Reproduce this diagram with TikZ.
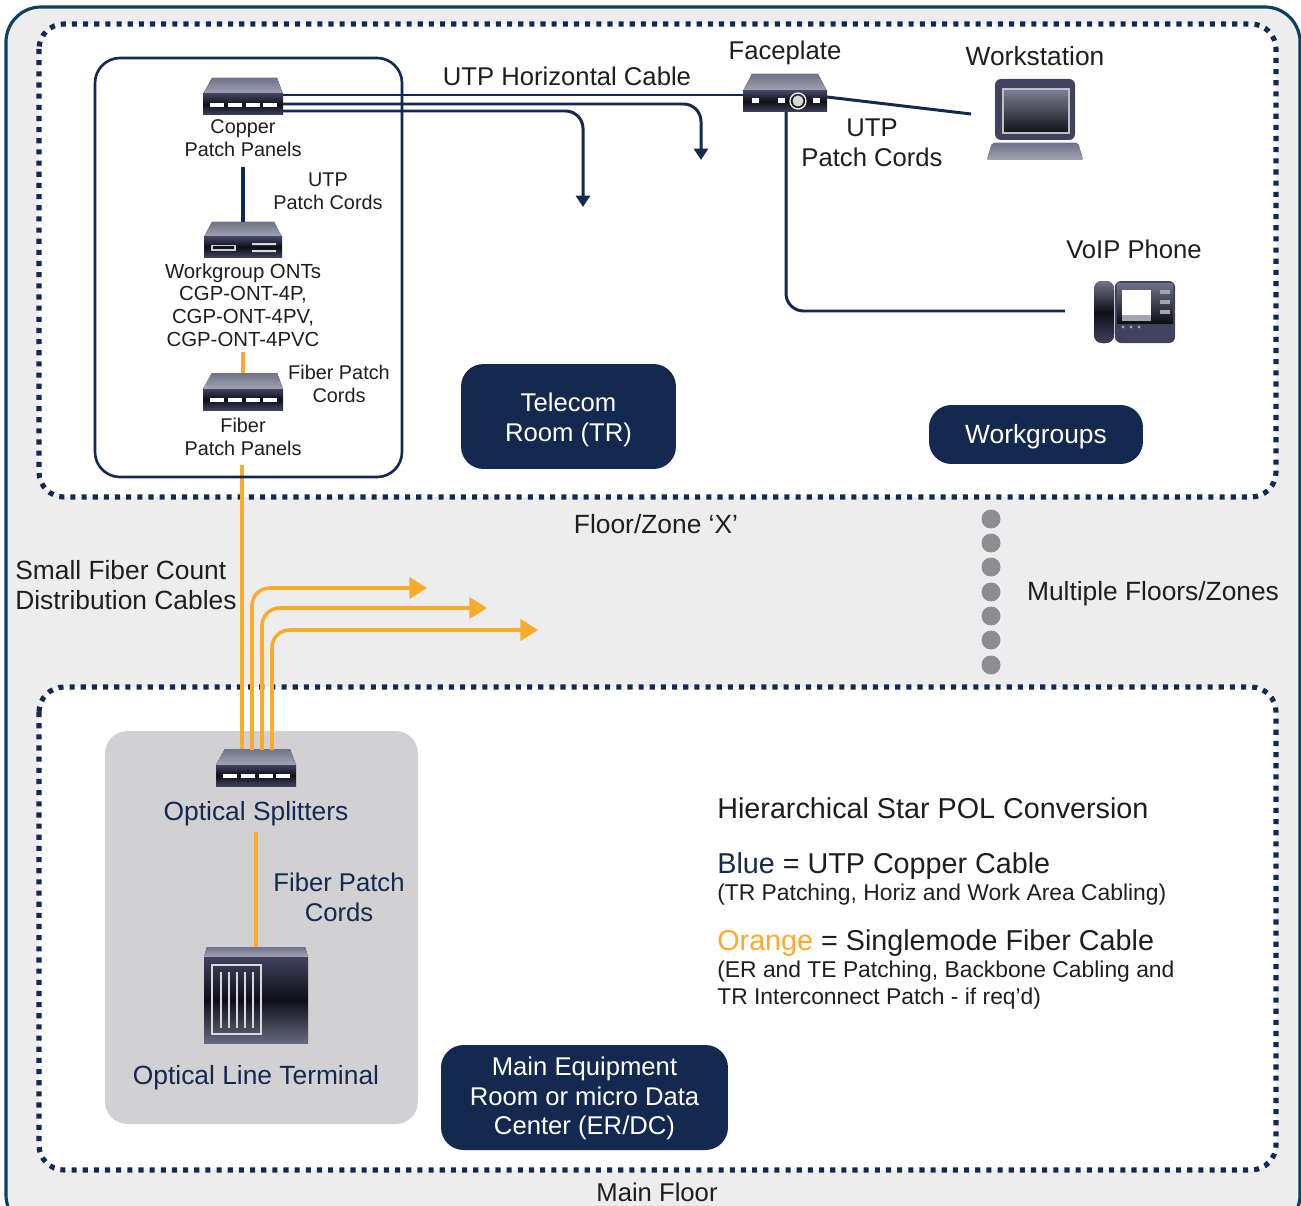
\documentclass[tikz,border=0pt]{standalone}
\usepackage{fontspec}
\setmainfont{Liberation Sans}
\usetikzlibrary{calc,arrows.meta,positioning}

\definecolor{navy}{HTML}{13294F}
\definecolor{rim}{HTML}{0D3F5E}
\definecolor{fiber}{HTML}{FBAB2C}
\definecolor{zonegray}{HTML}{EDEDEE}
\definecolor{boxgray}{HTML}{D1D1D3}
\definecolor{dotgray}{HTML}{8E8E92}
\definecolor{inktext}{HTML}{1E1E22}
\definecolor{lidA}{HTML}{6F7289}
\definecolor{lidB}{HTML}{A3A5B2}
\definecolor{faceA}{HTML}{40425F}
\definecolor{faceB}{HTML}{0F0F16}

\tikzset{
	copper/.style={line width=1.7pt, draw=navy},
	glass/.style={line width=2pt, draw=fiber},
	copperhead/.style={-{Triangle[length=6.5pt,width=8pt]}},
	fiberhead/.style={-{Triangle[length=10pt,width=12pt]}},
	zoneline/.style={draw=navy, line width=2.9pt, dash pattern=on 2.9pt off 3.45pt, rounded corners=5mm},
	smalltxt/.style={font=\fontsize{11.3}{13}\selectfont, text=inktext, align=center, inner sep=0pt},
	midtxt/.style={font=\fontsize{14.6}{17}\selectfont, text=inktext, align=center, inner sep=0pt},
	widetxt/.style={font=\fontsize{15}{17}\selectfont, text=inktext, align=center, inner sep=0pt},
	legendtxt/.style={font=\fontsize{16.35}{18}\selectfont, text=inktext, align=left, anchor=west, inner sep=0pt},
	notetxt/.style={font=\fontsize{13}{15.4}\selectfont, text=inktext, align=left, anchor=west, inner sep=0pt},
	roombox/.style={fill=navy, rounded corners=4.5mm, text=white, align=center, font=\fontsize{14.6}{17}\selectfont},
	lidshade/.style={top color=lidA, bottom color=lidB},
	faceshade/.style={top color=faceA, bottom color=faceA, middle color=faceB},
	panel/.pic={
		\fill[lidshade] (-31,0) -- (34,0) -- (40,16) -- (-40,16) -- cycle;
		\fill[faceshade] (-40,16) rectangle (40,37);
		\foreach \x in {-26,-8,10,27}
			\fill[white] (\x-7,25) rectangle (\x+7,29);
		\coordinate (-top) at (0,0);
		\coordinate (-wire) at (40,17);
		\coordinate (-wirea) at (40,26);
		\coordinate (-wireb) at (40,33);
	},
	ontbox/.pic={
		\fill[lidshade] (-31,0) -- (31,0) -- (39,15) -- (-39,15) -- cycle;
		\fill[faceshade] (-39,15) rectangle (39,35);
		\draw[white!80!black, line width=.6pt] (-31,23.5) rectangle (-8,28);
		\fill[white!85!black] (9,21) rectangle (33,23) (9,28) rectangle (33,30);
		\coordinate (-top) at (0,0);
		\coordinate (-foot) at (0,35);
	},
	faceplatebox/.pic={
		\fill[lidshade] (-33,0) -- (33,0) -- (42,17) -- (-42,17) -- cycle;
		\fill[faceshade] (-42,17) rectangle (42,38);
		\foreach \x in {-30,-4,31}
			\fill[white] (\x-3.5,24.5) rectangle (\x+3.5,29.5);
		\fill[white!85!black] (13,27) circle (5.5);
		\draw[white, line width=.7pt] (13,27) circle (8);
		\coordinate (-wire) at (-42,21);
		\coordinate (-desk) at (42,23);
		\coordinate (-foot) at (1,38);
	},
	laptopbox/.pic={
		\fill[faceA, rounded corners=1.2mm] (-40,0) rectangle (40,61);
		\shade[top color=lidA!90!white, bottom color=black!85!lidA, draw=white!75!black, line width=.7pt] (-32,10) rectangle (34,54);
		\fill[lidshade, rounded corners=.4mm] (-43,64) -- (43,64) -- (48,81) -- (-48,81) -- cycle;
		\coordinate (-port) at (-64,35);
	},
	phonebox/.pic={
		\fill[top color=lidA, bottom color=faceA, middle color=faceB, rounded corners=1.6mm] (-40,0) rectangle (-20,62);
		\fill[faceA, rounded corners=1.2mm] (-19,0) rectangle (41,62);
		\fill[top color=lidA, bottom color=faceB] (-17,2) rectangle (39,42);
		\fill[white] (-12,9) rectangle (17,34);
		\fill[lidB] (-12,34) rectangle (17,40);
		\foreach \y in {11,21,31}
			\fill[lidB] (26,\y-2) rectangle (36,\y+2);
		\foreach \x in {-11,-3,5}
			\fill[lidB] (\x,46) circle (1.6);
		\coordinate (-port) at (-69,30);
	},
	oltbox/.pic={
		\fill[lidshade] (-49,0) -- (49,0) -- (52,10) -- (-52,10) -- cycle;
		\fill[top color=faceA, bottom color=lidA!80!faceA, middle color=faceB] (-52,10) rectangle (52,96);
		\draw[white!85!black, line width=.8pt] (-44,18) rectangle (5,87);
		\foreach \x in {-35,-27,-19,-11,-3}
			\draw[white!85!black, line width=.8pt] (\x,25) -- (\x,81);
		\coordinate (-top) at (0,0);
	},
}

\begin{document}
\begin{tikzpicture}[x=0.02cm, y=-0.02cm]
	\useasboundingbox (0,0) rectangle (1301,1206);

	% Achtergrond en zones
	\fill[white] (0,0) rectangle (1301,1206);
	\draw[draw=rim, fill=zonegray, line width=1.8pt, rounded corners=7mm] (6,7) rectangle (1300,1230);
	\fill[white, rounded corners=5mm] (39,24) rectangle (1276,497);
	\fill[white, rounded corners=5mm] (39,687) rectangle (1276,1170);
	\fill[boxgray, rounded corners=4.5mm] (105,731) rectangle (418,1124);
	\draw[zoneline] (39,24) rectangle (1276,497);
	\draw[zoneline] (39,687) rectangle (1276,1170);

	% Vrije uiteinden
	\coordinate (dropA) at (583,207);
	\coordinate (dropB) at (701,160);
	\coordinate (copperfoot) at (243,167);
	\coordinate (ontfoot) at (243,352);
	\coordinate (fiberfoot) at (242,465);
	\coordinate (splitterfoot) at (256,832);
	\coordinate (riserA) at (252,750);
	\coordinate (riserB) at (262,750);
	\coordinate (riserC) at (272,750);
	\coordinate (endA) at (427,588);
	\coordinate (endB) at (487,608);
	\coordinate (endC) at (538,630);

	% Toestellen
	\pic (copperpanel) at (243,78) {panel};
	\pic (ont) at (243,222) {ontbox};
	\pic (fiberpanel) at (243,373) {panel};
	\pic (splitter) at (256,749) {panel};
	\pic (olt) at (256,947) {oltbox};
	\pic (faceplate) at (785,74) {faceplatebox};
	\pic (workstation) at (1035,79) {laptopbox};
	\pic (phone) at (1134,281) {phonebox};

	% Koperlijnen
	\draw[copper] (copperpanel-wire) -- (faceplate-wire);
	\draw[copper, copperhead, rounded corners=3.5mm] (copperpanel-wirea) -| (dropB);
	\draw[copper, copperhead, rounded corners=3.5mm] (copperpanel-wireb) -| (dropA);
	\draw[copper, line width=2.3pt] (copperfoot) -- (ont-top);
	\draw[copper] (faceplate-desk) -- (workstation-port);
	\draw[copper, rounded corners=3.5mm] (faceplate-foot) |- (phone-port);

	% Glasvezel
	\draw[glass] (ontfoot) -- (fiberpanel-top);
	\draw[glass] (fiberfoot) -- (fiberfoot |- splitter-top);
	\draw[glass, fiberhead, rounded corners=3.5mm] (riserA) |- (endA);
	\draw[glass, fiberhead, rounded corners=3.5mm] (riserB) |- (endB);
	\draw[glass, fiberhead, rounded corners=3.5mm] (riserC) |- (endC);
	\draw[glass] (splitterfoot) -- (olt-top);

	% TR kader
	\draw[navy, line width=1.5pt, rounded corners=5mm] (95,58) rectangle (402,477);

	% Tekst labels toevoegen
	\node[midtxt] (lblfaceplate) at (785,53) {Faceplate};
	\node[widetxt] (lblworkstation) at (1035,56) {Workstation};
	\node[midtxt] (lblphone) at (1134,249) {VoIP Phone};
	\node[midtxt] (lblhoriz) at (567,76) {UTP Horizontal Cable};
	\node[midtxt] (lbldesk) at (872,143) {UTP\\Patch Cords};
	\node[smalltxt] (lblcopper) at (243,138) {Copper\\Patch Panels};
	\node[smalltxt] (lblcords) at (328,191) {UTP\\Patch Cords};
	\node[smalltxt, font=\fontsize{11.6}{13}\selectfont] (lblont) at (243,305) {Workgroup ONTs\\CGP-ONT-4P,\\CGP-ONT-4PV,\\CGP-ONT-4PVC};
	\node[smalltxt] (lblfibercords) at (339,384) {Fiber Patch\\Cords};
	\node[smalltxt] (lblfiberpanel) at (243,437) {Fiber\\Patch Panels};
	\node[widetxt] (lblzone) at (656,524) {Floor/Zone ‘X’};
	\node[widetxt, align=left, anchor=west] (lblsmallfiber) at (15,585) {Small Fiber Count\\Distribution Cables};
	\node[widetxt] (lblmulti) at (1153,594) {Multiple Floors/Zones};
	\node[midtxt] (lblmain) at (657,1192) {Main Floor};
	\node[widetxt, text=navy] (lblsplitter) at (256,814) {Optical Splitters};
	\node[midtxt, text=navy] (lblsplitcords) at (339,897) {Fiber Patch\\Cords};
	\node[widetxt, text=navy] (lblolt) at (256,1078) {Optical Line Terminal};

	% Ruimtes
	\node[roombox, minimum width=4.3cm, minimum height=2.1cm] (telecom) at (568.5,416.5) {\rule{0pt}{14pt}Telecom\\Room (TR)};
	\node[roombox, minimum width=4.28cm, minimum height=1.18cm, font=\fontsize{15}{17}\selectfont] (workgroups) at (1036,434.5) {\rule{0pt}{13pt}Workgroups};
	\node[roombox, minimum width=5.74cm, minimum height=2.1cm] (equipment) at (584.5,1097.5) {\rule{0pt}{11.6pt}Main Equipment\\Room or micro Data\\Center (ER/DC)};

	% Legenda
	\node[legendtxt] (legendtitle) at (717,808) {Hierarchical Star POL Conversion};
	\node[legendtxt] (legendblue) at (717,866) {\textcolor{navy}{Blue} = UTP Copper Cable};
	\node[notetxt] (noteblue) at (717,894.5) {(TR Patching, Horiz and Work Area Cabling)};
	\node[legendtxt] (legendorange) at (717,943) {\textcolor{fiber}{Orange} = Singlemode Fiber Cable};
	\node[notetxt] (noteorange) at (717,985) {(ER and TE Patching, Backbone Cabling and\\TR Interconnect Patch - if req'd)};

	% Verdiepingen
	\foreach \y [count=\i] in {519,543,567,592,616,640,665}
		\node[circle, fill=dotgray, minimum size=0.38cm, inner sep=0pt] (floor\i) at (991,\y) {};
\end{tikzpicture}
\end{document}
